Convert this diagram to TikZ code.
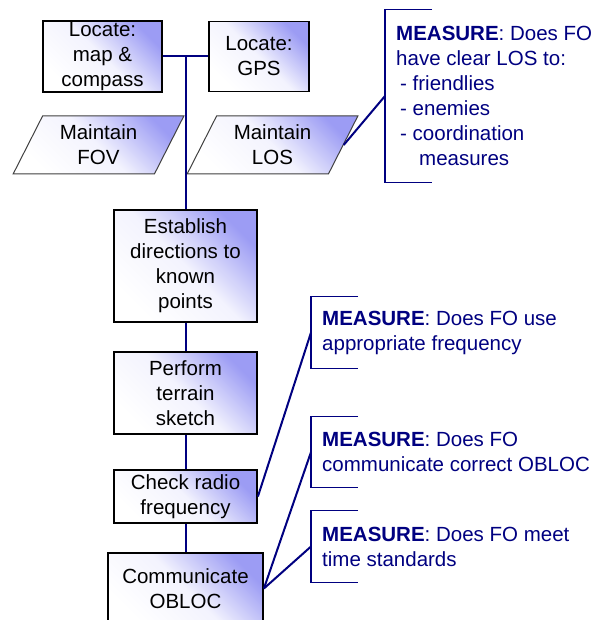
\documentclass[tikz,border=0pt]{standalone}
\usepackage{fontspec}
\setmainfont{Liberation Sans}
\usepackage{xcolor}
\usepackage{tikz}
\usetikzlibrary{positioning,shapes.geometric}
\definecolor{obsNavy}{HTML}{000080}
\definecolor{obsLilac}{HTML}{9C9CF4}
\definecolor{obsEdge}{HTML}{404040}

\begin{document}
\begin{tikzpicture}[
  x=1pt,
  y=-1pt,
  task/.style={draw=black, line width=1.8pt, top color=obsLilac, bottom color=white, middle color=obsLilac!12!white,
    shading angle=-45, align=center, inner sep=0pt, minimum width=143pt, font=\fontsize{20.5}{25}\selectfont},
  cond/.style={trapezium, trapezium left angle=63, trapezium right angle=117, trapezium stretches=true,
    draw=obsEdge, line width=1pt, top color=obsLilac, bottom color=white, middle color=obsLilac!12!white,
    shading angle=-45, align=center, inner sep=0pt, minimum width=171pt, minimum height=58pt,
    font=\fontsize{20.5}{25}\selectfont},
  measure/.style={anchor=west, align=left, inner xsep=11pt, inner ysep=0pt, text=obsNavy,
    font=\fontsize{20.5}{25}\selectfont},
  link/.style={draw=obsNavy, line width=2pt},
  tick/.style={draw=obsNavy, line width=1.2pt}
]
\useasboundingbox (0,0) rectangle (603,620);

\node[task, minimum width=119pt, minimum height=71pt] (locmap) at (102.5,56.5) {Locate:\\map \&\\compass};
\node[task, minimum width=100pt, minimum height=70pt] (locgps) at (259,56.5) {Locate:\\GPS};
\node[cond] (fov) at (98.5,145) {Maintain\\FOV};
\node[cond] (los) at (272.5,145) {Maintain\\LOS};
\node[task, minimum height=112pt] (establish) at (185.5,266) {Establish\\directions to\\known\\points};
\node[task, minimum height=82pt] (sketch) at (185.5,393) {Perform\\terrain\\sketch};
\node[task, minimum height=53pt] (radio) at (185.5,496.5) {Check radio\\frequency};
\node[task, minimum width=155pt, minimum height=71pt] (obloc) at (185.5,588.5) {Communicate\\OBLOC};

\node[measure, minimum height=172pt] (mlos) at (385,96) {\textbf{MEASURE}: Does FO\\have clear LOS to:\\ \hspace{4pt}- friendlies\\ \hspace{4pt}- enemies\\ \hspace{4pt}- coordination\\ \hspace{23pt}measures};
\node[measure, minimum height=71pt] (mfreq) at (311,332.5) {\textbf{MEASURE}: Does FO use\\appropriate frequency};
\node[measure, minimum height=70pt] (mobloc) at (311,452) {\textbf{MEASURE}: Does FO\\communicate correct OBLOC};
\node[measure, minimum height=71pt] (mtime) at (311,546.5) {\textbf{MEASURE}: Does FO meet\\time standards};

\coordinate (hub) at (establish.north |- locmap.east);
\draw[link] (locmap.east) -- (locgps.west);
\draw[link] (hub) -- (establish.north);
\draw[link] (establish.south) -- (sketch.north);
\draw[link] (sketch.south) -- (radio.north);
\draw[link] (radio.south) -- (obloc.north);

\foreach \m in {mlos,mfreq,mobloc,mtime}
  \draw[tick] ([xshift=47pt]\m.north west) -- (\m.north west) -- (\m.south west) -- ([xshift=47pt]\m.south west);

\draw[link] (los.east) -- (mlos.west);
\draw[link] (radio.east) -- (mfreq.west);
\draw[link] (obloc.east) -- (mobloc.west);
\draw[link] (obloc.east) -- (mtime.west);
\end{tikzpicture}
\end{document}
